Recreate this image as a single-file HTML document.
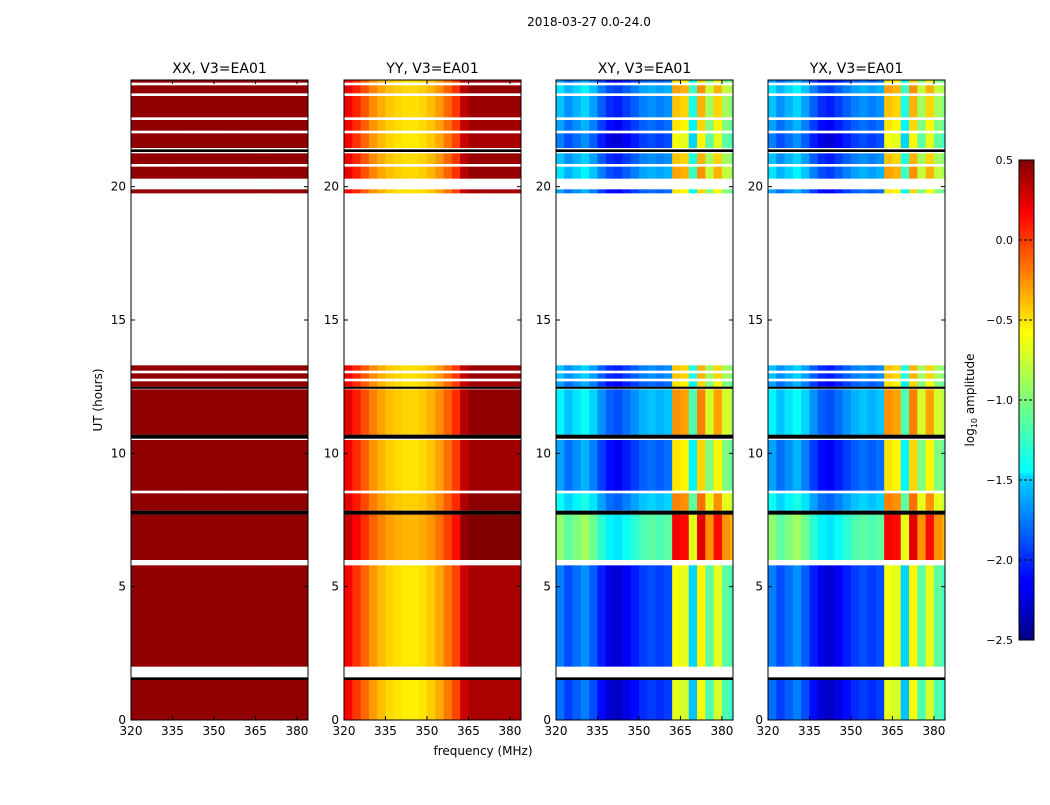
<!DOCTYPE html>
<html><head><meta charset="utf-8">
<style>
body{margin:0;background:#fff;}
svg text{font-family:"DejaVu Sans","Liberation Sans",sans-serif;}
</style></head>
<body>
<svg id="fig" width="1050" height="800" xmlns="http://www.w3.org/2000/svg">
<rect width="1050" height="800" fill="#fff"/>
<text x="589" y="26" font-size="12" text-anchor="middle">2018-03-27 0.0-24.0</text>
<text x="483" y="755" font-size="12" text-anchor="middle">frequency (MHz)</text>
<text x="102" y="400" font-size="12" text-anchor="middle" transform="rotate(-90 102 400)">UT (hours)</text>
<g id="panels"></g>
<defs><linearGradient id="jet" x1="0" y1="1" x2="0" y2="0">
<stop offset="0" stop-color="#000080"/><stop offset="0.11" stop-color="#0000ff"/><stop offset="0.125" stop-color="#0000ff"/>
<stop offset="0.34" stop-color="#00d4ff"/><stop offset="0.35" stop-color="#0ff"/><stop offset="0.5" stop-color="#7dff7a"/>
<stop offset="0.64" stop-color="#ff0"/><stop offset="0.66" stop-color="#ffea00"/><stop offset="0.89" stop-color="#f00"/><stop offset="1" stop-color="#800000"/>
</linearGradient></defs>
<rect x="1019" y="160" width="15" height="480" fill="url(#jet)" stroke="#000" stroke-width="1"/>
<text x="974" y="400" font-size="12" text-anchor="middle" transform="rotate(-90 974 400)">log<tspan font-size="8" dy="3">10</tspan><tspan dy="-3"> amplitude</tspan></text>
<g id="cbticks"></g>
</svg>
<script>
const panelTitles=["XX, V3=EA01","YY, V3=EA01","XY, V3=EA01","YX, V3=EA01"];
const panelLefts=[131,344,556,768];
const xTicks=[320,335,350,365,380];
const yTicks=[0,5,10,15,20];
const cbTicks=[0.5,0.0,-0.5,-1.0,-1.5,-2.0,-2.5];
// frequency bins 320..386 step 3 MHz
const freqBins=[320,323,326,329,332,335,338,341,344,347,350,353,356,359,362,365,368,371,374,377,380,383];
const profXX=[0.45,0.45,0.45,0.45,0.45,0.45,0.45,0.45,0.45,0.45,0.45,0.45,0.45,0.45,0.45,0.45,0.45,0.45,0.45,0.45,0.45,0.45];
const profYY=[0.15,0.0,-0.15,-0.3,-0.4,-0.48,-0.52,-0.55,-0.55,-0.52,-0.45,-0.35,-0.2,-0.05,0.3,0.4,0.4,0.4,0.4,0.4,0.4,0.4];
const profXY=[-1.65,-1.8,-1.7,-1.6,-1.75,-1.95,-2.1,-2.15,-2.05,-1.95,-1.85,-1.8,-1.85,-1.8,-0.55,-0.6,-1.4,-0.5,-1.0,-0.6,-1.0,-1.1];
const profYX=[-1.65,-1.8,-1.7,-1.6,-1.75,-1.95,-2.1,-2.15,-2.05,-1.95,-1.85,-1.8,-1.85,-1.8,-0.55,-0.6,-1.4,-0.5,-1.0,-0.6,-1.0,-1.1];
const profiles=[profXX,profYY,profXY,profYX];
// time segments [start,end] in hours with data
const segStart=[0,2.0,6.0,7.85,8.6,10.7,12.5,12.8,13.1,19.75,20.3,20.85,21.45,22.1,22.6,23.5,23.9];
const segEnd=[1.5,5.8,7.7,8.5,10.5,12.4,12.7,13.0,13.3,19.9,20.75,21.25,22.0,22.5,23.4,23.8,24];
const segOffset=[-0.15,-0.1,0.7,0.3,0.0,0.25,0.0,0.1,0.1,0.0,0.2,0.1,-0.1,0.0,0.1,0.2,0.0];
// flagged-black rows
const blackStart=[1.5,7.7,10.55,21.3,12.42];
const blackEnd=[1.6,7.85,10.7,21.4,12.5];

const NS="http://www.w3.org/2000/svg";
const plotTop=80,plotBot=720,pw=177;
function yS(h){return plotBot-(h/24)*(plotBot-plotTop);}
function xS(f,l){return l+(f-320)/(384-320)*pw;}
function cbY(v){return 640-(v+2.5)/3*480;}
function jet(v){
 let t=(v+2.5)/3; t=Math.max(0,Math.min(1,t));
 const r=Math.min(Math.max(Math.min(4*t-1.5,-4*t+4.5),0),1);
 const g=Math.min(Math.max(Math.min(4*t-0.5,-4*t+3.5),0),1);
 const b=Math.min(Math.max(Math.min(4*t+0.5,-4*t+2.5),0),1);
 return `rgb(${Math.round(r*255)},${Math.round(g*255)},${Math.round(b*255)})`;
}
function mk(tag,attrs,parent){const e=document.createElementNS(NS,tag);for(const k in attrs)e.setAttribute(k,attrs[k]);parent.appendChild(e);return e;}
const G=document.getElementById('panels');
panelLefts.forEach((L,p)=>{
 const g=mk('g',{},G);
 
 
 const prof=profiles[p];
 segStart.forEach((s,i)=>{
  const e=segEnd[i];
  freqBins.forEach((f,j)=>{
   const v=prof[j]+(p>=2?segOffset[i]:(p==1?segOffset[i]*0.2:0));
   const r=mk('rect',{x:xS(f,L),y:yS(e),width:Math.min(xS(f+3,L),L+pw)-xS(f,L)+0.5,height:yS(s)-yS(e),fill:jet(v)},g);
   
   
  });
 });
 blackStart.forEach((s,i)=>{
  const r=mk('rect',{x:L,y:yS(blackEnd[i]),width:pw,height:yS(s)-yS(blackEnd[i]),fill:'#000'},g);
  
  
 });
 const fr=mk('rect',{x:L,y:plotTop,width:pw,height:plotBot-plotTop,fill:'none',stroke:'#000','stroke-width':1},g);
 
 
 const t=mk('text',{x:L+pw/2,y:73,'font-size':14,'text-anchor':'middle'},g);t.textContent=panelTitles[p];
 
 
 xTicks.forEach(v=>{const x=xS(v,L);
  mk('line',{x1:x,x2:x,y1:plotBot,y2:plotBot-4,stroke:'#000'},g);mk('line',{x1:x,x2:x,y1:plotTop,y2:plotTop+4,stroke:'#000'},g);
  const tx=mk('text',{x:x,y:plotBot+15,'font-size':12,'text-anchor':'middle'},g);tx.textContent=v;
  
  });
 yTicks.forEach(v=>{const y=yS(v);
  mk('line',{x1:L,x2:L+4,y1:y,y2:y,stroke:'#000'},g);mk('line',{x1:L+pw-4,x2:L+pw,y1:y,y2:y,stroke:'#000'},g);
  const ty=mk('text',{x:L-5,y:y+4,'font-size':12,'text-anchor':'end'},g);ty.textContent=v;
  
  });
});
const CB=document.getElementById('cbticks');
cbTicks.forEach(v=>{const y=cbY(v);
 mk('line',{x1:1019,x2:1034,y1:y,y2:y,stroke:'#000','stroke-dasharray':'3,2'},CB);
 const t=mk('text',{x:1013,y:y+4,'font-size':11,'text-anchor':'end'},CB);t.textContent=(v<0?'\u2212':'')+Math.abs(v).toFixed(1);
 
 });
</script>
</body></html>
